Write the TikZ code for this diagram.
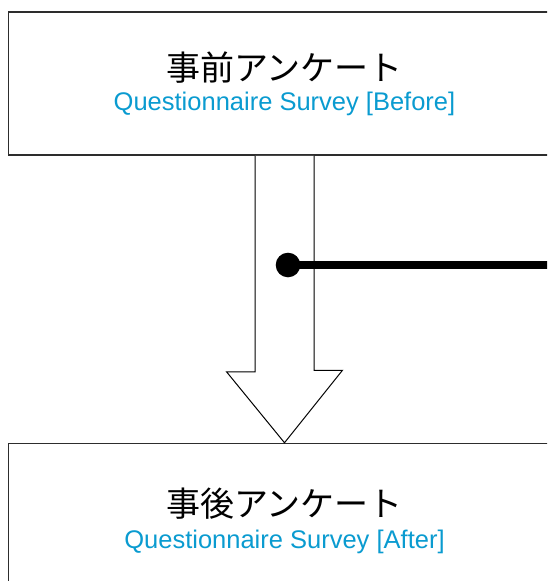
\documentclass[tikz,border=0pt]{standalone}
\usepackage{fontspec}
\setmainfont{Liberation Sans}
\newfontfamily\jpfont{Noto Sans CJK JP}
\usetikzlibrary{calc}
\definecolor{surveyblue}{RGB}{10,155,208}
\definecolor{boxgray}{RGB}{45,45,45}
\tikzset{
  surveybox/.style={draw=boxgray,line width=1.5pt,minimum width=552pt,minimum height=143pt,inner sep=0pt},
  jptext/.style={font=\jpfont\fontsize{34}{34}\selectfont,anchor=base,inner sep=0pt},
  entext/.style={font=\fontsize{25.5}{30}\selectfont,text=surveyblue,anchor=base,inner sep=0pt},
}

\begin{document}
\begin{tikzpicture}[line cap=butt,line join=miter,x=1pt,y=-1pt]
  \useasboundingbox (0,0) rectangle (547,581);
  \clip (0,0) rectangle (547,581);
  % survey boxes
  \node[surveybox] (before) at (284.5,83.5) {};
  \node[surveybox,minimum height=160pt] (after) at (284.5,523.5) {};
  \node[jptext] (beforejp) at (284.5,80.5) {事前アンケート};
  \node[entext] (beforeen) at (284.5,110.7) {Questionnaire Survey [Before]};
  \node[jptext] (afterjp) at (284.5,516) {事後アンケート};
  \node[entext] (afteren) at (284.5,548) {Questionnaire Survey [After]};
  % block arrow
  \draw[line width=1pt,fill=white] ($(before.south)+(-29.5,0)$) -- ++(0,216) -- ++(-28.5,0)
    -- (after.north) -- ++(58,-72.5) -- ++(-28.5,0) -- ($(before.south)+(29.5,0)$);
  % marker
  \coordinate (dot) at (288,265);
  \coordinate (lineend) at (560,265);
  \draw[line width=7.5pt] (dot) -- (lineend);
  \fill (dot) circle (12.3);
\end{tikzpicture}
\end{document}
